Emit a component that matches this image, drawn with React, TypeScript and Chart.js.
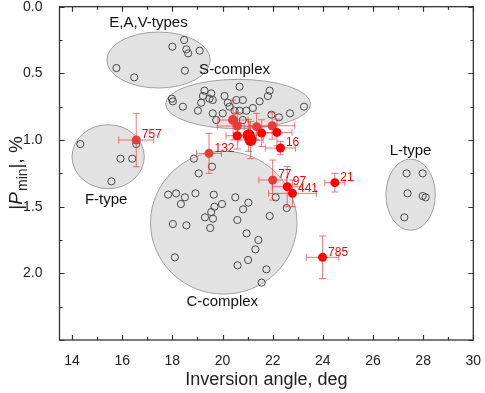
import React, { useEffect, useRef } from "react";
import { Chart, registerables } from "chart.js";

Chart.register(...registerables);

const FONT = '"Liberation Sans", Arial, Helvetica, sans-serif';

// Axis ticks
const xTickValues = [14, 16, 18, 20, 22, 24, 26, 28, 30];
const xMinorTickValues = [15, 17, 19, 21, 23, 25, 27, 29];
const yTickValues = [0, 0.5, 1.0, 1.5, 2.0, 2.5];
const yTickLabels = ["0.0", "0.5", "1.0", "1.5", "2.0", ""];
const yMinorTickValues = [0.25, 0.75, 1.25, 1.75, 2.25];

// Group ellipses (center and semi-axes in data units)
const groupNames = ["E,A,V-types", "S-complex", "F-type", "C-complex", "L-type"];
const groupCenterX = [17.45, 20.62, 15.44, 20.05, 27.5];
const groupCenterY = [0.4, 0.73, 1.125, 1.62, 1.41];
const groupRadiusX = [2.06, 2.89, 1.44, 2.92, 0.985];
const groupRadiusY = [0.21, 0.185, 0.24, 0.536, 0.267];
const groupLabelX = [17.05, 20.48, 15.36, 19.99, 27.5];
const groupLabelY = [0.124, 0.474, 1.447, 2.216, 1.08];

// Open circles (reference asteroids)
const openX = [
  18.0, 18.47, 18.56, 18.63, 19.09, 18.5, 15.77, 16.48,
  20.68, 17.98, 18.02, 18.42, 19.28, 19.55, 19.22, 19.48, 19.61, 19.15, 19.02, 20.08,
  20.21, 20.28, 20.55, 20.81, 21.48, 21.88, 21.81, 21.21, 22.69, 23.25, 21.95, 22.25,
  19.61, 19.75, 20.01, 20.48, 20.68, 20.95, 20.81,
  14.33, 16.56, 15.93, 16.4, 15.57,
  18.86, 19.58, 19.05, 17.83, 18.15, 18.5, 18.34, 18.92, 19.65, 19.98, 19.68, 19.55,
  19.3, 19.62, 19.51, 18.02, 18.56, 18.1, 20.51, 21.03, 20.82, 20.59, 20.96, 21.43,
  21.31, 21.02, 20.6, 21.75, 21.56, 21.88, 22.12, 22.56,
  27.34, 27.98, 27.38, 27.98, 28.1, 27.25,
];
const openY = [
  0.3, 0.25, 0.32, 0.35, 0.33, 0.48, 0.46, 0.53,
  0.6, 0.69, 0.71, 0.75, 0.63, 0.65, 0.67, 0.69, 0.7, 0.72, 0.78, 0.67,
  0.72, 0.75, 0.7, 0.7, 0.71, 0.63, 0.67, 0.76, 0.8, 0.75, 0.81, 0.83,
  0.8, 0.85, 0.8, 0.78, 0.78, 0.78, 0.85,
  1.03, 1.03, 1.14, 1.14, 1.31,
  1.14, 1.2, 1.25, 1.41, 1.4, 1.43, 1.48, 1.4, 1.41, 1.48, 1.5, 1.54,
  1.58, 1.59, 1.66, 1.63, 1.64, 1.88, 1.43, 1.47, 1.52, 1.6, 1.7, 1.75,
  1.82, 1.9, 1.94, 1.97, 2.07, 1.57, 1.43, 1.51,
  1.25, 1.25, 1.4, 1.42, 1.43, 1.58,
];

// Measured objects (red, with error bars)
const redX = [16.56, 19.46, 22.0, 22.58, 22.79, 24.48, 23.99, 22.31, 20.42, 20.59, 21.36, 21.98, 20.59, 21.04, 21.12, 21.56, 22.17];
const redY = [1.0, 1.1, 1.3, 1.35, 1.4, 1.32, 1.88, 1.06, 0.85, 0.895, 0.9, 0.893, 0.968, 0.965, 1.0, 0.948, 0.943];
const redXErr = [0.7, 0.5, 0.55, 0.6, 0.95, 0.4, 0.65, 0.6, 0.6, 0.8, 0.5, 0.9, 0.45, 0.6, 0.5, 0.55, 0.6];
const redYErr = [0.2, 0.15, 0.15, 0.15, 0.1, 0.07, 0.16, 0.05, 0.15, 0.1, 0.1, 0.1, 0.1, 0.12, 0.14, 0.1, 0.1];
const redLabels = ["757", "132", "77", "97", "441", "21", "785", "16", "", "", "", "", "", "", "", "", ""];
const redLight = [1, 1, 1, 0, 0, 0, 0, 0, 1, 1, 1, 1, 0, 0, 0, 0, 0];
const redSize = [4.5, 4.5, 4.5, 4.5, 4.5, 4.5, 4.5, 4.5, 5, 4.5, 4.5, 4.5, 4.5, 6, 6, 4.5, 4.5];

const RED = "#ff0000";
const RED_LIGHT = "#e83c3c";
const ERR_COLOR = "rgba(240,60,60,0.7)";

const customPlugin = {
  id: "customDraw",
  beforeDatasetsDraw(chart: any) {
    const { ctx, scales } = chart;
    const x = scales.x;
    const y = scales.y;
    ctx.save();
    for (let i = 0; i < groupNames.length; i++) {
      const cx = x.getPixelForValue(groupCenterX[i]);
      const cy = y.getPixelForValue(groupCenterY[i]);
      const rx = Math.abs(x.getPixelForValue(groupCenterX[i] + groupRadiusX[i]) - cx);
      const ry = Math.abs(y.getPixelForValue(groupCenterY[i] + groupRadiusY[i]) - cy);
      ctx.beginPath();
      ctx.ellipse(cx, cy, rx, ry, 0, 0, Math.PI * 2);
      ctx.fillStyle = "#e2e2e2";
      ctx.fill();
      ctx.lineWidth = 1;
      ctx.strokeStyle = "#a0a0a0";
      ctx.stroke();
    }
    ctx.restore();
  },
  beforeDatasetDraw(chart: any, args: any) {
    if (args.index !== 0) return;
    const { ctx, scales } = chart;
    const x = scales.x;
    const y = scales.y;
    const cap = 3.5;
    ctx.save();
    ctx.strokeStyle = ERR_COLOR;
    ctx.lineWidth = 1;
    for (let i = 0; i < redX.length; i++) {
      const px = x.getPixelForValue(redX[i]);
      const py = y.getPixelForValue(redY[i]);
      const x0 = x.getPixelForValue(redX[i] - redXErr[i]);
      const x1 = x.getPixelForValue(redX[i] + redXErr[i]);
      const y0 = y.getPixelForValue(redY[i] - redYErr[i]);
      const y1 = y.getPixelForValue(redY[i] + redYErr[i]);
      ctx.beginPath();
      ctx.moveTo(x0, py);
      ctx.lineTo(x1, py);
      ctx.moveTo(x0, py - cap);
      ctx.lineTo(x0, py + cap);
      ctx.moveTo(x1, py - cap);
      ctx.lineTo(x1, py + cap);
      ctx.moveTo(px, y0);
      ctx.lineTo(px, y1);
      ctx.moveTo(px - cap, y0);
      ctx.lineTo(px + cap, y0);
      ctx.moveTo(px - cap, y1);
      ctx.lineTo(px + cap, y1);
      ctx.stroke();
    }
    ctx.restore();
  },
  afterDatasetsDraw(chart: any) {
    const { ctx, scales } = chart;
    const x = scales.x;
    const y = scales.y;
    ctx.save();
    ctx.fillStyle = "#111";
    ctx.font = `15px ${FONT}`;
    ctx.textAlign = "center";
    ctx.textBaseline = "middle";
    for (let i = 0; i < groupNames.length; i++) {
      ctx.fillText(groupNames[i], x.getPixelForValue(groupLabelX[i]), y.getPixelForValue(groupLabelY[i]));
    }
    ctx.fillStyle = RED;
    ctx.font = `12px ${FONT}`;
    ctx.textAlign = "left";
    for (let i = 0; i < redX.length; i++) {
      if (!redLabels[i]) continue;
      ctx.fillText(redLabels[i], x.getPixelForValue(redX[i]) + 5.5, y.getPixelForValue(redY[i]) - 5);
    }
    ctx.restore();
  },
  afterDraw(chart: any) {
    const { ctx, chartArea, scales } = chart;
    const x = scales.x;
    const y = scales.y;
    const { left, right, top, bottom } = chartArea;
    ctx.save();
    ctx.strokeStyle = "#333";
    ctx.lineWidth = 1.3;
    ctx.strokeRect(left, top, right - left, bottom - top);
    ctx.lineWidth = 1.2;
    const major = 5;
    const minor = 3;
    ctx.beginPath();
    const xt = (vals: number[], len: number) => {
      for (const v of vals) {
        const px = Math.round(x.getPixelForValue(v)) + 0.5;
        ctx.moveTo(px, bottom);
        ctx.lineTo(px, bottom - len);
        ctx.moveTo(px, top);
        ctx.lineTo(px, top + len);
      }
    };
    const yt = (vals: number[], len: number) => {
      for (const v of vals) {
        const py = Math.round(y.getPixelForValue(v)) + 0.5;
        ctx.moveTo(left, py);
        ctx.lineTo(left + len, py);
        ctx.moveTo(right, py);
        ctx.lineTo(right - len, py);
      }
    };
    xt(xTickValues, major);
    xt(xMinorTickValues, minor);
    yt(yTickValues, major);
    yt(yMinorTickValues, minor);
    ctx.stroke();

    // X axis title
    ctx.fillStyle = "#222";
    ctx.font = `18px ${FONT}`;
    ctx.textAlign = "center";
    ctx.textBaseline = "middle";
    ctx.fillText("Inversion angle, deg", (left + right) / 2, bottom + 40);

    // Y axis title: |P_min|, %
    const cy = (top + bottom) / 2;
    ctx.translate(22, cy);
    ctx.rotate(-Math.PI / 2);
    ctx.textBaseline = "alphabetic";
    ctx.textAlign = "left";
    const mainFont = `19px ${FONT}`;
    const italFont = `italic 19px ${FONT}`;
    const subFont = `14px ${FONT}`;
    const parts: [string, string, number][] = [
      ["|", mainFont, 0],
      ["P", italFont, 0],
      ["min", subFont, 5],
      ["|, %", mainFont, 0],
    ];
    let total = 0;
    for (const [t, f] of parts) {
      ctx.font = f;
      total += ctx.measureText(t).width;
    }
    let pos = -total / 2;
    for (const [t, f, off] of parts) {
      ctx.font = f;
      ctx.fillText(t, pos, off);
      pos += ctx.measureText(t).width + (t === "P" ? 1 : 0);
    }
    ctx.restore();
  },
};

export default function App() {
  const canvasRef = useRef<HTMLCanvasElement | null>(null);

  useEffect(() => {
    const canvas = canvasRef.current;
    if (!canvas) return;
    const chart = new Chart(canvas, {
      type: "scatter",
      data: {
        datasets: [
          {
            label: "measured",
            data: redX.map((v, i) => ({ x: v, y: redY[i] })),
            backgroundColor: redLight.map((l) => (l ? RED_LIGHT : RED)),
            borderColor: redLight.map((l) => (l ? RED_LIGHT : RED)),
            borderWidth: 0,
            pointRadius: redSize,
            pointStyle: "circle",
          },
          {
            label: "reference",
            data: openX.map((v, i) => ({ x: v, y: openY[i] })),
            backgroundColor: "rgba(0,0,0,0)",
            borderColor: "#4a4a4a",
            borderWidth: 1,
            pointRadius: 3.6,
            pointStyle: "circle",
          },
        ],
      },
      options: {
        responsive: false,
        animation: false,
        events: [],
        layout: { padding: { left: 0, top: 6.7, right: 11.7, bottom: 0 } },
        plugins: {
          legend: { display: false },
          tooltip: { enabled: false },
          title: { display: false },
        },
        scales: {
          x: {
            type: "linear",
            min: 13.5,
            max: 30,
            grid: { display: false },
            border: { display: false },
            ticks: {
              font: { family: FONT, size: 14 },
              color: "#222",
              padding: 5,
              maxRotation: 0,
              autoSkip: false,
            },
            afterBuildTicks: (s: any) => {
              s.ticks = xTickValues.map((v) => ({ value: v }));
            },
            afterFit: (s: any) => {
              s.height = 53;
              s.paddingLeft = 0;
              s.paddingRight = 0;
            },
          },
          y: {
            type: "linear",
            reverse: true,
            min: 0,
            max: 2.5,
            grid: { display: false },
            border: { display: false },
            ticks: {
              font: { family: FONT, size: 14 },
              color: "#222",
              padding: 9,
              autoSkip: false,
              callback: (value: any) => {
                const i = yTickValues.indexOf(Number(value));
                return i >= 0 ? yTickLabels[i] : "";
              },
            },
            afterBuildTicks: (s: any) => {
              s.ticks = yTickValues.map((v) => ({ value: v }));
            },
            afterFit: (s: any) => {
              s.width = 59.5;
              s.paddingTop = 0;
              s.paddingBottom = 0;
            },
          },
        },
      },
      plugins: [customPlugin],
    });
    return () => chart.destroy();
  }, []);

  return (
    <div style={{ position: "absolute", left: 0, top: 0, width: 485, height: 393, background: "#fff" }}>
      <canvas ref={canvasRef} width={485} height={393} style={{ width: 485, height: 393, display: "block" }} />
    </div>
  );
}
